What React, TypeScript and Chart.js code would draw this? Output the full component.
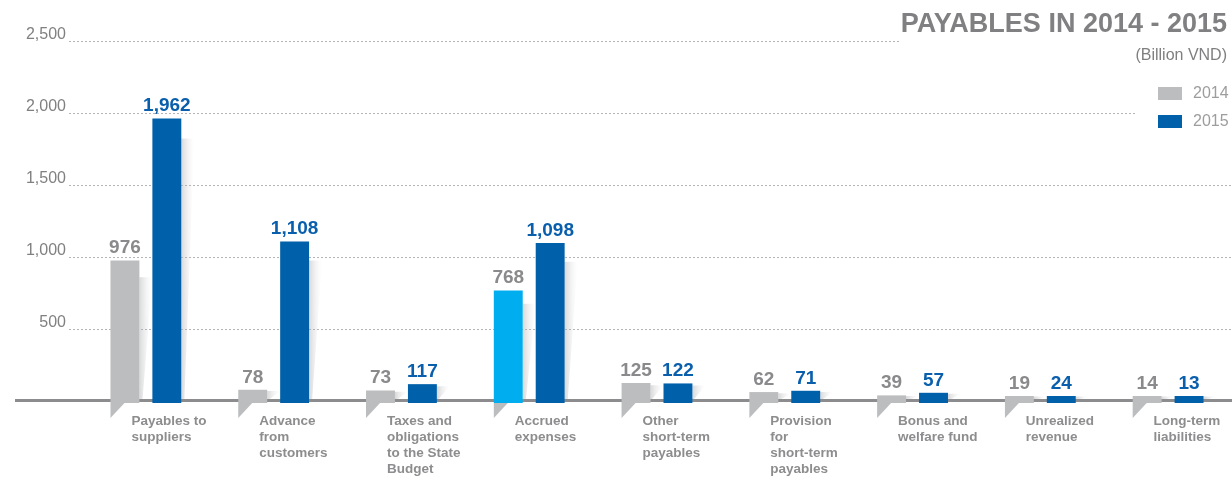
import React, { useEffect, useRef } from 'react';
import { Chart, registerables } from 'chart.js';

Chart.register(...registerables);

// ---------- data ----------
const categories: string[][] = [
  ['Payables to', 'suppliers'],
  ['Advance', 'from', 'customers'],
  ['Taxes and', 'obligations', 'to the State', 'Budget'],
  ['Accrued', 'expenses'],
  ['Other', 'short-term', 'payables'],
  ['Provision', 'for', 'short-term', 'payables'],
  ['Bonus and', 'welfare fund'],
  ['Unrealized', 'revenue'],
  ['Long-term', 'liabilities'],
];
const series2014: number[] = [976, 78, 73, 768, 125, 62, 39, 19, 14];
const series2015: number[] = [1962, 1108, 117, 1098, 122, 71, 57, 24, 13];
const seriesNames: string[] = ['2014', '2015'];
const highlightIndex2014 = 3;
const yMax = 2500;
const yStep = 500;
const titleText = 'PAYABLES IN 2014 - 2015';
const unitText = '(Billion VND)';

// ---------- styles ----------
const GRAY = '#bcbdbf';
const BLUE = '#0060aa';
const CYAN = '#00aeef';
const TEXT_GRAY = '#8a8a8c';
const LABEL_BLUE = '#0a5fad';
const FONT = '"Liberation Sans", Arial, Helvetica, sans-serif';

const fmt = (v: number) => v.toLocaleString('en-US');

const decorPlugin = {
  id: 'decor',
  beforeDatasetsDraw(chart: any) {
    const { ctx, scales } = chart;
    const yScale = scales.y;
    // bar shadows
    chart.data.datasets.forEach((_ds: any, di: number) => {
      const meta = chart.getDatasetMeta(di);
      meta.data.forEach((bar: any) => {
        const p = bar.getProps(['x', 'y', 'base', 'width'], true);
        const r = p.x + p.width / 2;
        const top = p.y;
        const base = p.base;
        const h = base - top;
        const off = Math.min(20, h * 0.12);
        const grad = ctx.createLinearGradient(r, 0, r + 13, 0);
        grad.addColorStop(0, 'rgba(190,191,193,0.6)');
        grad.addColorStop(1, 'rgba(235,235,236,0)');
        ctx.save();
        ctx.fillStyle = grad;
        ctx.beginPath();
        ctx.moveTo(r, top + off);
        ctx.lineTo(r + 13, top + off);
        ctx.lineTo(r + (h > 60 ? 3 : 0), base);
        ctx.lineTo(r, base);
        ctx.closePath();
        ctx.fill();
        ctx.restore();
      });
    });
    // dotted grid lines
    ctx.save();
    ctx.strokeStyle = '#b4b4b6';
    ctx.lineWidth = 1;
    ctx.setLineDash([2, 2]);
    yScale.ticks.forEach((t: any) => {
      if (t.value === 0) return;
      const py = Math.round(yScale.getPixelForValue(t.value)) + 0.5;
      let end = chart.width;
      if (t.value === yMax) end = 900;
      else if (t.value === yMax - yStep) end = 1137;
      ctx.beginPath();
      ctx.moveTo(69, py);
      ctx.lineTo(end, py);
      ctx.stroke();
    });
    ctx.restore();
    // base line
    const zero = Math.round(yScale.getPixelForValue(0));
    ctx.save();
    ctx.fillStyle = '#8c8c8e';
    ctx.fillRect(15, zero - 2, chart.width - 15, 3);
    ctx.restore();
  },
  afterDatasetsDraw(chart: any) {
    const { ctx } = chart;
    chart.data.datasets.forEach((ds: any, di: number) => {
      const meta = chart.getDatasetMeta(di);
      meta.data.forEach((bar: any, i: number) => {
        const p = bar.getProps(['x', 'y', 'base', 'width'], true);
        const left = p.x - p.width / 2;
        const color = Array.isArray(ds.backgroundColor) ? ds.backgroundColor[i] : ds.backgroundColor;
        ctx.save();
        ctx.fillStyle = color;
        ctx.fillRect(left, p.base, p.width, 2);
        if (di === 0) {
          ctx.fillStyle = GRAY;
          ctx.beginPath();
          ctx.moveTo(left, p.base + 2);
          ctx.lineTo(left + 14, p.base + 2);
          ctx.lineTo(left, p.base + 17);
          ctx.closePath();
          ctx.fill();
        }
        // value label
        ctx.font = `bold 19px ${FONT}`;
        ctx.textAlign = 'center';
        ctx.textBaseline = 'alphabetic';
        ctx.fillStyle = di === 0 ? TEXT_GRAY : LABEL_BLUE;
        ctx.fillText(fmt(ds.data[i]), p.x, p.y - 7);
        ctx.restore();
      });
    });
  },
  afterDraw(chart: any) {
    const { ctx } = chart;
    ctx.save();
    ctx.textAlign = 'right';
    ctx.textBaseline = 'alphabetic';
    ctx.fillStyle = '#808082';
    ctx.font = `bold 27px ${FONT}`;
    ctx.fillText(titleText, 1227, 32);
    ctx.fillStyle = '#7f7f81';
    ctx.font = `16px ${FONT}`;
    ctx.fillText(unitText, 1227, 60);
    // legend
    const colors = [GRAY, BLUE];
    seriesNames.forEach((name, k) => {
      const top = 87 + k * 28;
      ctx.fillStyle = colors[k];
      ctx.fillRect(1158, top, 24, 13);
      ctx.fillStyle = '#9d9d9f';
      ctx.font = `16px ${FONT}`;
      ctx.textAlign = 'left';
      ctx.textBaseline = 'middle';
      ctx.fillText(name, 1193, top + 7);
    });
    ctx.restore();
  },
};

export default function App() {
  const canvasRef = useRef<HTMLCanvasElement | null>(null);

  useEffect(() => {
    document.body.style.margin = '0';
    const canvas = canvasRef.current;
    if (!canvas) return;
    const chart = new Chart(canvas, {
      type: 'bar',
      data: {
        labels: categories,
        datasets: [
          {
            label: seriesNames[0],
            data: series2014,
            backgroundColor: series2014.map((_v, i) => (i === highlightIndex2014 ? CYAN : GRAY)),
            barPercentage: 0.69,
            categoryPercentage: 0.656,
            minBarLength: 5,
          },
          {
            label: seriesNames[1],
            data: series2015,
            backgroundColor: BLUE,
            barPercentage: 0.69,
            categoryPercentage: 0.656,
            minBarLength: 5,
          },
        ],
      },
      options: {
        responsive: false,
        animation: false,
        devicePixelRatio: 1,
        layout: { padding: { top: 41, left: 0, right: -3, bottom: 0 } },
        plugins: {
          legend: { display: false },
          tooltip: { enabled: false },
          title: { display: false },
        },
        scales: {
          x: {
            grid: { display: false, drawTicks: false },
            border: { display: false },
            ticks: {
              autoSkip: false,
              maxRotation: 0,
              minRotation: 0,
              align: 'start',
              labelOffset: -14.5,
              padding: 12,
              color: '#8d8d8f',
              font: { family: FONT, size: 13.5, weight: 'bold', lineHeight: 1.185 },
            },
            afterFit: (scale: any) => {
              scale.height = 80;
              scale.paddingLeft = 0;
              scale.paddingRight = 0;
            },
          },
          y: {
            min: 0,
            max: yMax,
            grid: { display: false, drawTicks: false },
            border: { display: false },
            ticks: {
              stepSize: yStep,
              padding: 16,
              labelOffset: -6,
              color: '#808082',
              font: { family: FONT, size: 16 },
              callback: (v: any) => (Number(v) === 0 ? '' : fmt(Number(v))),
            },
            afterFit: (scale: any) => {
              scale.width = 82;
              scale.paddingTop = 0;
              scale.paddingBottom = 0;
            },
          },
        },
      },
      plugins: [decorPlugin],
    } as any);
    return () => chart.destroy();
  }, []);

  return (
    <div style={{ width: 1232, height: 481, position: 'relative', background: '#fff' }}>
      <canvas ref={canvasRef} width={1232} height={481} />
    </div>
  );
}
